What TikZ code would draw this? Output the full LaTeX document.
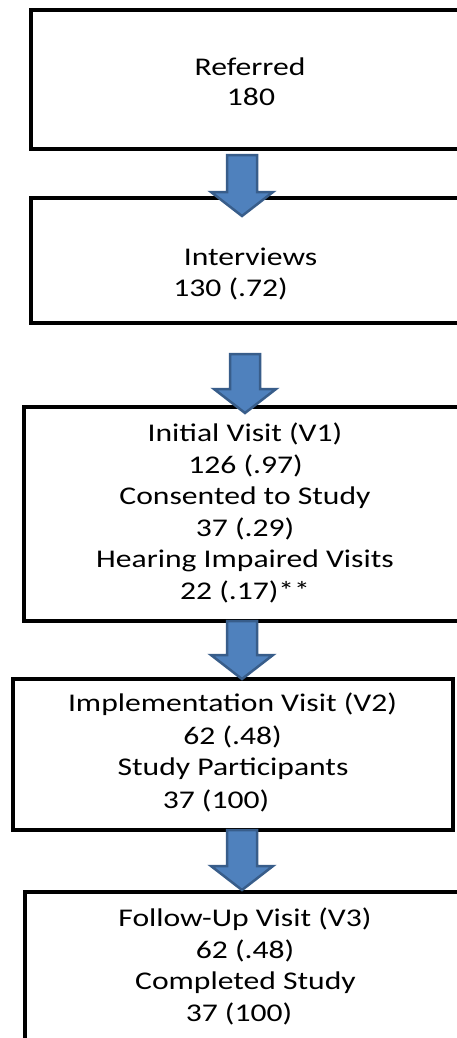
\documentclass[tikz,border=0pt]{standalone}
\usepackage{fontspec}
\setmainfont{Carlito}[FakeStretch=1.24]
\usetikzlibrary{calc}
\definecolor{arrowfill}{HTML}{4F81BD}
\definecolor{arrowedge}{HTML}{385D8A}
\begin{document}
\begin{tikzpicture}[x=1pt,y=-1pt,
  box/.style={draw=black, line width=4.5pt, fill=white, rectangle, inner sep=0pt},
  lbl/.style={anchor=base, inner sep=0pt, font=\fontsize{25.5}{31}\selectfont},
  blockarrow/.style={draw=arrowedge, fill=arrowfill, line width=2.5pt, line join=miter,
    to path={let \p1=(\tikztostart), \p2=(\tikztotarget) in
      (\x1-15pt,\y1) -- (\x1+15pt,\y1) -- (\x1+15pt,\y2+24pt) -- (\x1+31pt,\y2+24pt)
      -- (\x2,\y2) -- (\x1-31pt,\y2+24pt) -- (\x1-15pt,\y2+24pt) -- cycle}}]
\useasboundingbox (0,0) rectangle (457,1038);
\fill[white] (0,0) rectangle (457,1038);
\clip (0,0) rectangle (457,1038);

% boxes
\node[box, minimum width=438pt, minimum height=139pt] (b1) at (250,79.5) {};
\node[box, minimum width=438pt, minimum height=125pt] (b2) at (250,260.5) {};
\node[box, minimum width=442pt, minimum height=214pt] (b3) at (245,514) {};
\node[box, minimum width=440pt, minimum height=151pt] (b4) at (233,754.5) {};
\node[box, minimum width=440pt, minimum height=200pt] (b5) at (245,992) {};

% texts
\node[lbl] (t11) at (250,76) {Referred};
\node[lbl] (t12) at (251,106) {180};

\node[lbl] (t21) at (250.5,265) {Interviews};
\node[lbl] (t22) at (230.5,296) {130 (.72)};

\node[lbl] (t31) at (245,441) {Initial Visit (V1)};
\node[lbl] (t32) at (245.5,473) {126 (.97)};
\node[lbl] (t33) at (245,504.5) {Consented to Study};
\node[lbl] (t34) at (245,536.5) {37 (.29)};
\node[lbl] (t35) at (245,567.5) {Hearing Impaired Visits};
\node[lbl] (t36) at (245,599.5) {22 (.17)**};

\node[lbl] (t41) at (232.5,711.5) {Implementation Visit (V2)};
\node[lbl] (t42) at (232.5,744.5) {62 (.48)};
\node[lbl] (t43) at (233,775.5) {Study Participants};
\node[lbl] (t44) at (216,808) {37 (100)};

\node[lbl] (t51) at (245,926) {Follow-Up Visit (V3)};
\node[lbl] (t52) at (245,958) {62 (.48)};
\node[lbl] (t53) at (245.5,989.5) {Completed Study};
\node[lbl] (t54) at (239,1021.5) {37 (100)};

% block arrows
\coordinate (a1s) at (242,155);
\coordinate (a1e) at (242,216);
\coordinate (a2s) at (245,354);
\coordinate (a2e) at (245,413);
\coordinate (a3s) at (242,621);
\coordinate (a3e) at (242,679);
\coordinate (a4s) at (242,830);
\coordinate (a4e) at (242,890);
\draw[blockarrow] (a1s) to (a1e);
\draw[blockarrow] (a2s) to (a2e);
\draw[blockarrow] (a3s) to (a3e);
\draw[blockarrow] (a4s) to (a4e);
\end{tikzpicture}
\end{document}
